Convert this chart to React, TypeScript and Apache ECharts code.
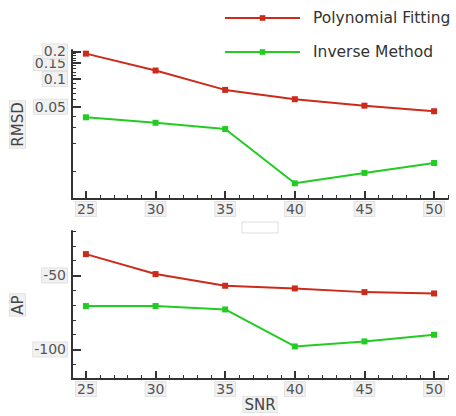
import React, { useEffect, useRef } from "react";
import * as echarts from "echarts";

const snr = [25, 30, 35, 40, 45, 50];
const rmsdPoly = [0.189, 0.124, 0.0764, 0.0605, 0.0515, 0.0448];
const rmsdInv = [0.0385, 0.0336, 0.0287, 0.0074, 0.0096, 0.0123];
const apPoly = [-35.6, -49.1, -57, -58.8, -61.3, -62.2];
const apInv = [-70.7, -70.7, -73, -98, -94.6, -90.1];

const xMajor = [25, 30, 35, 40, 45, 50];
const xMinor = [26, 27, 28, 29, 31, 32, 33, 34, 36, 37, 38, 39, 41, 42, 43, 44, 46, 47, 48, 49, 51];
const rmsdMajor = [0.05, 0.1, 0.15, 0.2];
const rmsdLabelsA = [0.05, 0.1, 0.15];
const rmsdLabelsB = [0.2];
const rmsdMinor = [0.01, 0.02, 0.03, 0.04, 0.06, 0.07, 0.08, 0.09, 0.11, 0.12, 0.13, 0.14, 0.16, 0.17, 0.18, 0.19];
const apMajor = [-100, -50];
const apMinor = [-110, -90, -80, -70, -60, -40, -30, -20];

const RED = "#cc2a1a";
const GREEN = "#22cc22";
const AXIS = "#333333";
const FONT = "DejaVu Sans";

const labelBox = {
  color: "#555",
  fontFamily: FONT,
  fontSize: 14,
  backgroundColor: "#f1f1f1",
  borderColor: "#e2e2e2",
  borderWidth: 1,
  padding: [0, 1, 0, 1],
};

const nameBox = {
  color: "#444",
  fontFamily: FONT,
  fontSize: 15,
  backgroundColor: "#f1f1f1",
  borderColor: "#e2e2e2",
  borderWidth: 1,
  padding: [0, 1, 0, 1],
};

const logFmt = (v: number) => String(+(+v).toPrecision(3));

function xAxes(gridIndex: number, withName: boolean) {
  return [
    {
      type: "value",
      gridIndex,
      position: "bottom",
      min: 24,
      max: 51,
      name: withName ? "SNR" : "",
      nameLocation: "middle",
      nameGap: 18,
      nameMoveOverlap: false,
      nameTextStyle: nameBox,
      axisLine: { onZero: false, lineStyle: { color: AXIS, width: 2 } },
      axisTick: { inside: true, length: 8, customValues: xMajor, lineStyle: { color: AXIS, width: 2 } },
      axisLabel: { customValues: xMajor, margin: 3, hideOverlap: false, ...labelBox },
      splitLine: { show: false },
    },
    {
      type: "value",
      gridIndex,
      position: "bottom",
      min: 24,
      max: 51,
      axisLine: { show: false, onZero: false },
      axisTick: { inside: true, length: 4, customValues: xMinor, lineStyle: { color: AXIS, width: 1 } },
      axisLabel: { show: false },
      splitLine: { show: false },
    },
  ];
}

export default function App() {
  const ref = useRef<HTMLDivElement>(null);
  useEffect(() => {
    document.body.style.margin = "0";
    if (!ref.current) return;
    const chart = echarts.init(ref.current, null, { renderer: "svg" });
    const pts = (ys: number[]) => snr.map((x, i) => [x, ys[i]]);
    const lineSeries = (name: string, color: string, ys: number[], xi: number, yi: number) => ({
      type: "line",
      name,
      xAxisIndex: xi,
      yAxisIndex: yi,
      data: pts(ys),
      symbol: "rect",
      symbolSize: 6,
      itemStyle: { color },
      lineStyle: { color, width: 2 },
    });
    chart.setOption({
      animation: false,
      backgroundColor: "#ffffff",
      grid: [
        { left: 72, top: 50, width: 376, height: 149, outerBoundsMode: "none", containLabel: false },
        { left: 72, top: 231, width: 376, height: 148, outerBoundsMode: "none", containLabel: false },
      ],
      legend: {
        orient: "vertical",
        left: 224,
        top: 10,
        padding: 0,
        itemWidth: 75,
        itemHeight: 7,
        itemGap: 18,
        textStyle: { fontFamily: FONT, fontSize: 15.5, color: "#333", lineHeight: 16, padding: [0, 0, 0, 8] },
        data: ["Polynomial Fitting", "Inverse Method"],
      },
      xAxis: [...xAxes(0, false), ...xAxes(1, true)],
      yAxis: [
        {
          type: "log",
          gridIndex: 0,
          position: "left",
          min: 0.005,
          max: 0.207,
          name: "RMSD",
          nameLocation: "middle",
          nameGap: 47,
          nameMoveOverlap: false,
          nameTextStyle: nameBox,
          axisLine: { onZero: false, lineStyle: { color: AXIS, width: 2 } },
          axisTick: { inside: true, length: 9, customValues: rmsdMajor, lineStyle: { color: AXIS, width: 2 } },
          axisLabel: { customValues: rmsdLabelsA, margin: 5, hideOverlap: false, formatter: logFmt, ...labelBox },
          splitLine: { show: false },
          minorTick: { show: false },
        },
        {
          type: "log",
          gridIndex: 0,
          position: "left",
          min: 0.005,
          max: 0.207,
          axisLine: { show: false, onZero: false },
          axisTick: { inside: true, length: 4, customValues: rmsdMinor, lineStyle: { color: AXIS, width: 1 } },
          axisLabel: { customValues: rmsdLabelsB, margin: 5, hideOverlap: false, formatter: logFmt, ...labelBox },
          splitLine: { show: false },
        },
        {
          type: "value",
          gridIndex: 1,
          position: "left",
          min: -120,
          max: -20,
          name: "AP",
          nameLocation: "middle",
          nameGap: 47,
          nameMoveOverlap: false,
          nameTextStyle: nameBox,
          axisLine: { onZero: false, lineStyle: { color: AXIS, width: 2 } },
          axisTick: { inside: true, length: 9, customValues: apMajor, lineStyle: { color: AXIS, width: 2 } },
          axisLabel: { customValues: apMajor, margin: 5, hideOverlap: false, ...labelBox },
          splitLine: { show: false },
        },
        {
          type: "value",
          gridIndex: 1,
          position: "left",
          min: -120,
          max: -20,
          axisLine: { show: false, onZero: false },
          axisTick: { inside: true, length: 4, customValues: apMinor, lineStyle: { color: AXIS, width: 1 } },
          axisLabel: { show: false },
          splitLine: { show: false },
        },
      ],
      graphic: [
        {
          type: "rect",
          shape: { x: 242, y: 222, width: 36, height: 11 },
          style: { fill: "#ffffff", stroke: "#dddddd", lineWidth: 1 },
        },
      ],
      series: [
        lineSeries("Polynomial Fitting", RED, rmsdPoly, 0, 0),
        lineSeries("Inverse Method", GREEN, rmsdInv, 0, 0),
        lineSeries("Polynomial Fitting", RED, apPoly, 2, 2),
        lineSeries("Inverse Method", GREEN, apInv, 2, 2),
      ],
    });
    return () => chart.dispose();
  }, []);
  return <div ref={ref} style={{ width: 456, height: 416 }} />;
}
